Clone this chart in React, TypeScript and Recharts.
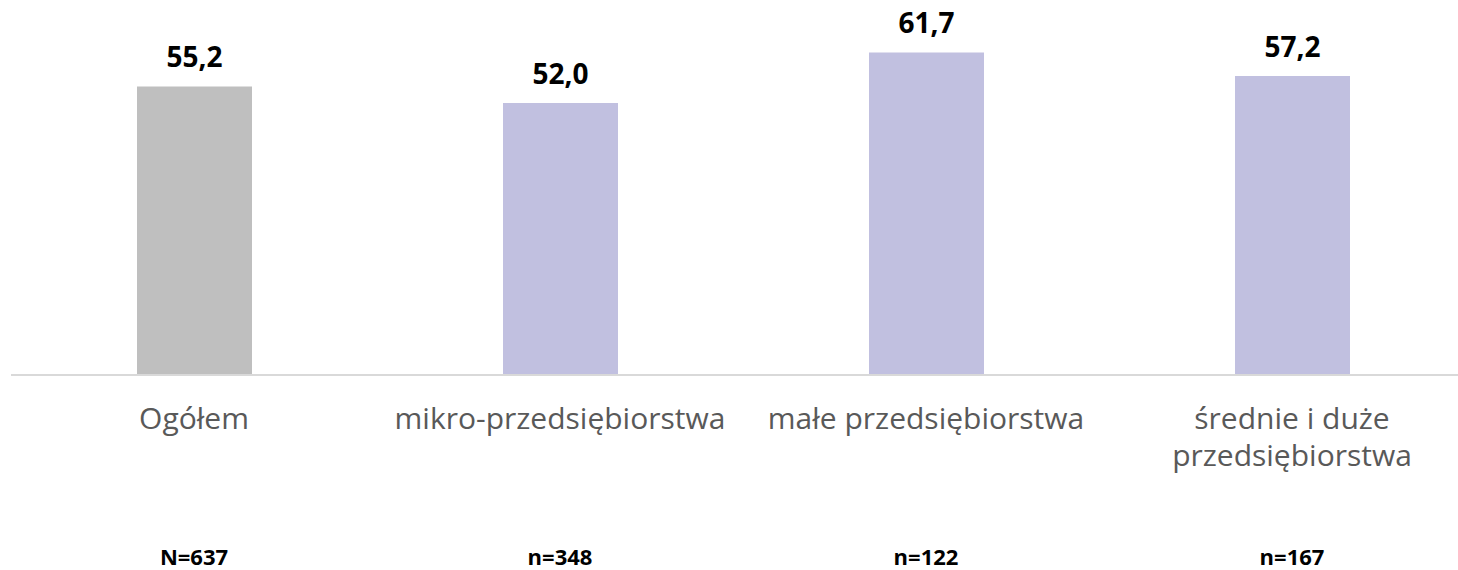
import { BarChart, Bar, XAxis, YAxis, Cell, LabelList } from "recharts";

const categories = [
  "Ogółem",
  "mikro-przedsiębiorstwa",
  "małe przedsiębiorstwa",
  "średnie i duże przedsiębiorstwa",
];
const values = [55.2, 52.0, 61.7, 57.2];
const sampleSizes = ["N=637", "n=348", "n=122", "n=167"];
const barColors = ["#bfbfbf", "#c1c0e0", "#c1c0e0", "#c1c0e0"];

const data = categories.map((name, i) => ({ name, value: values[i], n: sampleSizes[i] }));

const FONT = "'Open Sans', sans-serif";

function wrap(label: string): string[] {
  if (label.length <= 24) return [label];
  const cut = label.lastIndexOf(" ", 16);
  return [label.slice(0, cut), label.slice(cut + 1)];
}

function CategoryTick(props: any) {
  const { x, y, payload, index } = props;
  const lines = wrap(String(payload.value));
  return (
    <g>
      <text textAnchor="middle" fontFamily={FONT} fontSize={30} fill="#595959">
        {lines.map((l, i) => (
          <tspan key={i} x={x} y={y + 54 + i * 37}>
            {l}
          </tspan>
        ))}
      </text>
      <text x={x} y={y + 190} textAnchor="middle" fontFamily={FONT} fontSize={22} fontWeight="bold" fill="#000">
        {sampleSizes[index]}
      </text>
    </g>
  );
}

export default function App() {
  return (
    <div style={{ position: "absolute", left: 0, top: 0, width: 1458, height: 570, overflow: "hidden", background: "#fff" }}>
      <BarChart width={1476} height={570} data={data} margin={{ top: 9, right: 1, left: 11, bottom: 0 }}>
        <XAxis
          dataKey="name"
          axisLine={{ stroke: "#d9d9d9", strokeWidth: 2 }}
          tickLine={false}
          tickSize={0}
          tickMargin={0}
          height={195}
          interval={0}
          tick={<CategoryTick />}
        />
        <YAxis hide domain={[0, 70]} />
        <Bar dataKey="value" barSize={115} isAnimationActive={false}>
          {data.map((d, i) => (
            <Cell key={d.name} fill={barColors[i]} />
          ))}
          <LabelList
            dataKey="value"
            position="top"
            offset={19}
            formatter={(v: any) => Number(v).toFixed(1).replace(".", ",")}
            style={{ fontFamily: FONT, fontSize: 28, fontWeight: "bold", fill: "#000" }}
          />
        </Bar>
      </BarChart>
    </div>
  );
}
